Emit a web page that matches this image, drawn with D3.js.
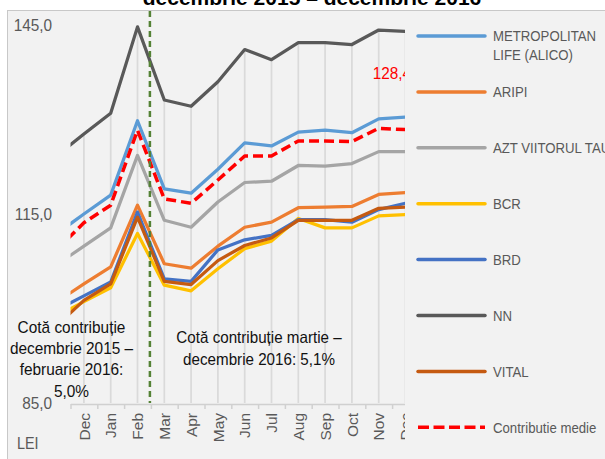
<!DOCTYPE html>
<html>
<head>
<meta charset="utf-8">
<script src="https://cdn.jsdelivr.net/npm/d3@7"></script>
<style>
  body { margin: 0; background: #fff; }
  svg { display: block; font-family: "Liberation Sans", Arial, sans-serif; }
</style>
</head>
<body>
<svg id="chart" width="605" height="459"></svg>
<script>
// tick labels of the category axis
var months = ["Dec", "Jan", "Feb", "Mar", "Apr", "May", "Jun", "Jul", "Aug", "Sep", "Oct", "Nov", "Dec"];
var yTicks = [85, 115, 145];

// first value of every series is Nov 2015: it sits left of the plot and is clipped
var metropolitan = [111.9, 115.0, 118.0, 129.8, 119.0, 118.3, 122.1, 126.3, 125.8, 128.0, 128.3, 127.9, 130.1, 130.4];
var aripi        = [101.1, 103.9, 106.6, 116.4, 107.1, 106.4, 109.9, 112.9, 113.7, 116.0, 116.1, 116.2, 118.1, 118.4];
var azt          = [107.0, 109.9, 112.8, 124.3, 114.0, 112.9, 116.9, 120.0, 120.2, 122.7, 122.6, 123.0, 124.9, 124.9];
var bcr          = [98.8, 101.1, 103.3, 111.9, 103.7, 102.8, 106.3, 109.5, 110.7, 114.3, 112.8, 112.8, 114.7, 114.9];
var brd          = [99.8, 102.0, 104.2, 115.3, 104.7, 104.3, 109.3, 110.9, 111.6, 114.1, 114.1, 113.7, 115.7, 116.7];
var nn           = [124.3, 127.7, 131.0, 144.7, 133.1, 132.1, 136.0, 141.1, 139.5, 142.2, 142.2, 141.9, 144.2, 144.0];
var vital        = [97.3, 101.3, 103.9, 114.5, 104.3, 103.8, 107.6, 110.0, 111.2, 114.0, 114.0, 114.0, 115.9, 116.1];
var contributie  = [109.4, 113.6, 116.4, 128.3, 117.4, 116.7, 120.4, 124.2, 124.2, 126.6, 126.6, 126.5, 128.6, 128.4];

var seriesNames = ["METROPOLITAN\nLIFE (ALICO)", "ARIPI", "AZT VIITORUL TAU", "BCR", "BRD", "NN", "VITAL", "Contributie medie"];

var x;
var y;

// the original uses a narrow font, so texts are squeezed sideways
function squash(sel, px, py, s) {
  sel.attr("x", 0).attr("y", 0)
  .attr("transform", (d, i) => "translate(" + px(d, i) + "," + py(d, i) + ") scale(" + s + ",1)");
}

function chart() {
  var svg = d3.select("#chart");
  var colors = ["#5b9bd5", "#ed7d31", "#a5a5a5", "#ffc000", "#4472c4", "#595959", "#c55a11", "#ff0000"];
  var series = [metropolitan, aripi, azt, bcr, brd, nn, vital, contributie];
  var fmt = d => d3.format(".1f")(d).replace(".", ",");

  x = d3.scaleLinear().domain([-0.5, 12.5]).range([70.5, 418.9]);
  y = d3.scaleLinear().domain([85, 145]).range([403, 25]);

  var defs = svg.append("defs");
  defs.append("clipPath").attr("id", "plot-clip")
  .append("rect").attr("x", 70.5).attr("y", 11).attr("width", 334.5).attr("height", 393);
  defs.append("clipPath").attr("id", "axis-clip")
  .append("rect").attr("x", 0).attr("y", 11).attr("width", 405).attr("height", 448);

  // title, mostly cut off at the top
  svg.append("text")
  .attr("x", 312).attr("y", 5)
  .attr("text-anchor", "middle")
  .style("font-size", "21px").style("font-weight", "bold").attr("fill", "#000")
  .text("decembrie 2015 – decembrie 2016");

  // panel
  svg.append("rect")
  .attr("x", 7.5).attr("y", 10.5).attr("width", 610).attr("height", 460)
  .attr("fill", "#f2f2f2").attr("stroke", "#c8c8c8");

  var plot = svg.append("g").attr("clip-path", "url(#plot-clip)");

  // drop lines from the highest value down to the axis
  plot.selectAll("line.drop")
  .data(d3.range(0, 13))
  .enter().append("line")
  .attr("class", "drop")
  .attr("x1", i => x(i)).attr("x2", i => x(i))
  .attr("y1", i => y(d3.max(series, s => s[i + 1])))
  .attr("y2", y(85))
  .attr("stroke", "#dadada").attr("stroke-width", 1.75);

  var line = d3.line()
  .x((d, i) => x(i - 1))
  .y(d => y(d));

  plot.selectAll("path.series")
  .data(series)
  .enter().append("path")
  .attr("class", "series")
  .attr("d", d => line(d))
  .attr("fill", "none")
  .attr("stroke", (d, i) => colors[i])
  .attr("stroke-width", (d, i) => i == 7 ? 3.5 : 3.25)
  .attr("stroke-dasharray", (d, i) => i == 7 ? "10,5" : null)
  .attr("stroke-linejoin", "round");

  // x axis
  var axisG = svg.append("g").attr("clip-path", "url(#axis-clip)");

  var tickAxis = axisG.append("g")
  .attr("transform", "translate(0,404)")
  .call(d3.axisBottom(x).tickValues(d3.range(-0.5, 13, 1)).tickFormat("").tickSize(5).tickSizeOuter(0));
  tickAxis.select(".domain").attr("stroke", "#d0d0d0").attr("stroke-width", 1.5);
  tickAxis.selectAll(".tick line").attr("stroke", "#d0d0d0").attr("stroke-width", 1.5);

  var labelAxis = axisG.append("g")
  .attr("transform", "translate(0,404)")
  .call(d3.axisBottom(x).tickValues(d3.range(0, 13)).tickFormat(i => months[i]).tickSize(0));
  labelAxis.select(".domain").remove();
  labelAxis.selectAll("text")
  .attr("y", 0).attr("x", -9).attr("dy", "0.35em")
  .attr("transform", "rotate(-90) scale(1,0.95)")
  .style("text-anchor", "end")
  .style("font-size", "15.5px").style("font-family", "Liberation Sans, Arial, sans-serif")
  .attr("fill", "#595959");

  // y axis labels only
  var yAxis = svg.append("g")
  .attr("transform", "translate(55,0)")
  .call(d3.axisLeft(y).tickValues(yTicks).tickFormat(fmt).tickSize(0).tickPadding(3));
  yAxis.select(".domain").remove();
  yAxis.selectAll("text")
  .style("font-size", "16.5px").style("font-family", "Liberation Sans, Arial, sans-serif")
  .attr("fill", "#595959");
  squash(yAxis.selectAll("text"), () => -3, () => 0, 0.93);

  svg.append("text")
  .attr("dy", "0.35em")
  .style("font-size", "16px").attr("fill", "#595959")
  .text("LEI")
  .call(squash, () => 17, () => 443, 0.9);

  // split between the two contribution periods
  svg.append("line")
  .attr("x1", x(2.5) - 1).attr("x2", x(2.5) - 1)
  .attr("y1", 11).attr("y2", 403)
  .attr("stroke", "#548235").attr("stroke-width", 2.5)
  .attr("stroke-dasharray", "6,4");

  // data label of the average, cut by the legend
  svg.append("g").attr("clip-path", "url(#axis-clip)")
  .append("text")
  .attr("dy", "0.35em")
  .style("font-size", "17px").attr("fill", "#ff0000")
  .text(fmt(contributie[contributie.length - 1]))
  .call(squash, () => x(11) - 6, () => 73, 0.9);

  // notes
  var note1 = ["Cotă contribuție", "decembrie 2015 –", "februarie 2016:", "5,0%"];
  svg.append("g").selectAll("text")
  .data(note1)
  .enter().append("text")
  .attr("dy", "0.35em")
  .attr("text-anchor", "middle")
  .style("font-size", "16.75px").attr("fill", "#111")
  .text(d => d)
  .call(squash, () => 71.5, (d, i) => 327 + i * 21.3, 0.92);

  var note2 = ["Cotă contribuție martie –", "decembrie 2016: 5,1%"];
  svg.append("g").selectAll("text")
  .data(note2)
  .enter().append("text")
  .attr("dy", "0.35em")
  .attr("text-anchor", "middle")
  .style("font-size", "16.5px").attr("fill", "#111")
  .text(d => d)
  .call(squash, () => 259, (d, i) => 337 + i * 22.5, 0.92);

  // legend
  var legend = svg.append("g").selectAll("g")
  .data(seriesNames)
  .enter().append("g")
  .attr("transform", (d, i) => "translate(0," + (36 + i * 55.9) + ")");

  legend.append("line")
  .attr("x1", 418).attr("x2", 485)
  .attr("stroke", (d, i) => colors[i])
  .attr("stroke-width", 3.5)
  .attr("stroke-linecap", (d, i) => i == 7 ? "butt" : "round")
  .attr("stroke-dasharray", (d, i) => i == 7 ? "11,4.5" : null);

  legend.append("text")
  .attr("transform", "translate(493,0) scale(0.88,1)")
  .style("font-size", "15px").attr("fill", "#595959")
  .selectAll("tspan")
  .data(d => d.split("\n"))
  .enter().append("tspan")
  .attr("x", 0)
  .attr("y", (d, i) => i * 19)
  .attr("dy", "0.35em")
  .text(d => d);
}

chart();
</script>
</body>
</html>
